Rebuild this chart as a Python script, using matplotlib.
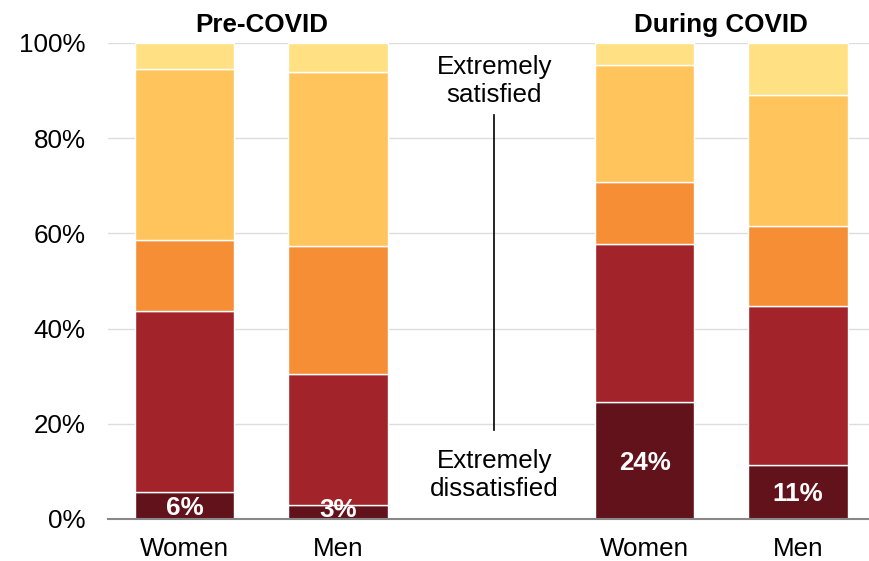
import matplotlib.pyplot as plt
import numpy as np

plt.rcParams['font.family'] = ['Liberation Sans', 'DejaVu Sans']

groups = ['Pre-COVID', 'During COVID']
categories = ['Women', 'Men', 'Women', 'Men']
levels = ['Extremely dissatisfied', 'Dissatisfied', 'Neutral', 'Satisfied', 'Extremely satisfied']

# shares per level (bottom to top), one value per bar
extremely_dissatisfied = [5.7, 2.9, 24.6, 11.3]
dissatisfied = [38.0, 27.6, 33.2, 33.4]
neutral = [14.9, 26.9, 13.0, 16.9]
satisfied = [35.9, 36.5, 24.6, 27.5]
extremely_satisfied = [5.5, 6.1, 4.6, 10.9]
bottom_labels = ['6%', '3%', '24%', '11%']

colors = ['#62121A', '#A2232A', '#F68E36', '#FFC45C', '#FFE083']
positions = [0, 1, 3, 4]
fs = 18.7

fig = plt.figure(figsize=(8.7, 5.61), dpi=100)
ax = fig.add_axes([108 / 870, 42 / 561, 762 / 870, 476 / 561])

series = [extremely_dissatisfied, dissatisfied, neutral, satisfied, extremely_satisfied]
base = np.zeros(len(positions))
for vals, col, name in zip(series, colors, levels):
    ax.bar(positions, vals, bottom=base, width=0.65, color=col,
           edgecolor='white', linewidth=1, label=name, zorder=3)
    base += np.array(vals)

for x, v, lab in zip(positions, extremely_dissatisfied, bottom_labels):
    ax.text(x, max(v / 2 - 0.5, 1.8), lab, ha='center', va='center', color='white',
            fontsize=fs, fontweight='bold', zorder=4)

ax.set_xlim(-0.5, 4.47)
ax.set_ylim(0, 100)
ax.set_yticks(range(0, 101, 20))
ax.set_yticklabels([f'{t}%' for t in range(0, 101, 20)])
ax.set_xticks(positions)
ax.set_xticklabels(categories)
ax.tick_params(axis='both', length=0, labelsize=fs)
ax.tick_params(axis='x', pad=13)
ax.tick_params(axis='y', pad=16)
ax.grid(axis='y', color='#DDDDDD', linewidth=1, zorder=0)
for s in ['top', 'right', 'left']:
    ax.spines[s].set_visible(False)
ax.spines['bottom'].set_color('#888888')
ax.spines['bottom'].set_linewidth(1.5)
ax.spines['bottom'].set_zorder(5)

# group titles
ax.text(0.5, 101.3, groups[0], ha='center', va='bottom', fontsize=fs, fontweight='bold')
ax.text(3.5, 101.3, groups[1], ha='center', va='bottom', fontsize=fs, fontweight='bold')

# scale annotation between the groups
ax.text(2.02, 92.0, 'Extremely\nsatisfied', ha='center', va='center', fontsize=fs,
        linespacing=1.2)
ax.text(2.02, 9.2, 'Extremely\ndissatisfied', ha='center', va='center', fontsize=fs,
        linespacing=1.2)
ax.plot([2.02, 2.02], [18.7, 84.9], color='black', linewidth=1.2)

fig.savefig('out.png', dpi=100)
